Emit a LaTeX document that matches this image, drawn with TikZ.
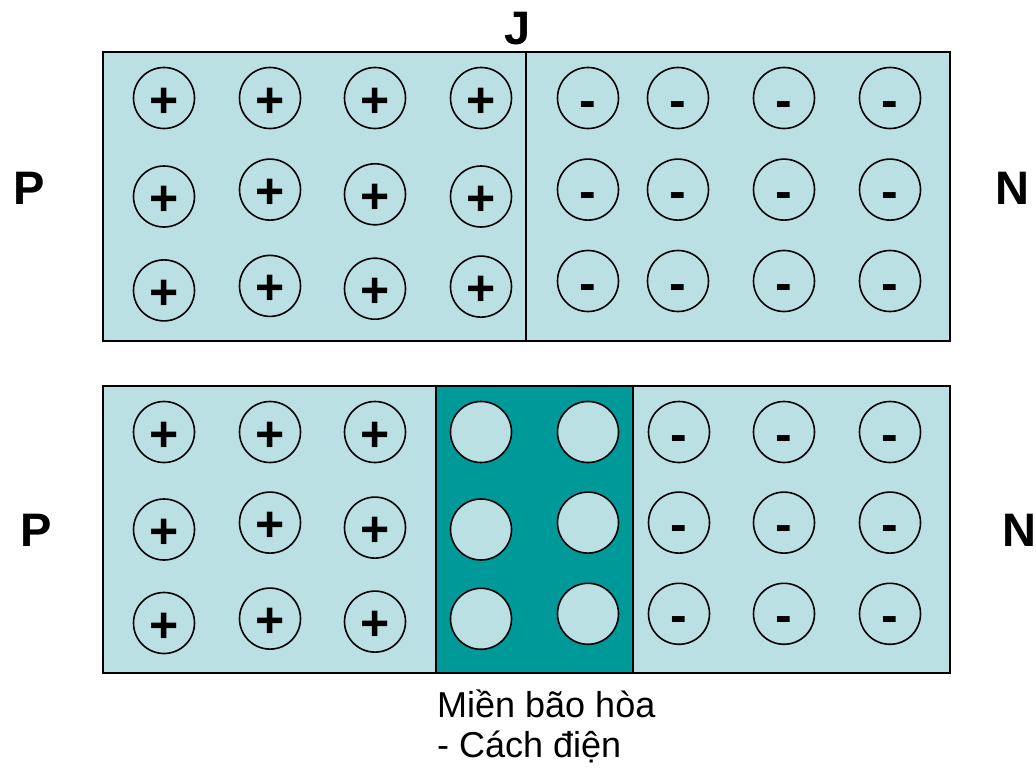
\documentclass[tikz,border=0pt]{standalone}
\usepackage{fontspec}
\setmainfont{Liberation Sans}
\definecolor{lightfill}{HTML}{BBE0E3}
\definecolor{darkfill}{HTML}{009999}
\begin{document}
\begin{tikzpicture}[x=1pt,y=-1pt,
  region/.style={draw=black,line width=1.8pt,fill=lightfill},
  ion/.style={circle,draw=black,line width=1.6pt,fill=lightfill,minimum size=61pt,inner sep=0pt,
    font=\fontsize{50}{50}\selectfont\bfseries,text height=38pt,text depth=0pt},
  big/.style={font=\fontsize{47}{47}\selectfont\bfseries},
  caption/.style={font=\fontsize{36}{40}\selectfont,align=left,anchor=north west,inner sep=0pt}]
\useasboundingbox (0,0) rectangle (1036,768);
% top block
\draw[region] (103,52) rectangle (950,341);
\draw[line width=1.8pt] (526,52) -- (526,341);
% bottom block
\draw[region] (103,386) rectangle (950,673);
\draw[line width=1.8pt,fill=darkfill] (436,386) rectangle (633,673);
% top ions, P side
\foreach \x/\n/\ya/\yb in {164/1/196.5/290.4, 270/2/189.6/285.9, 375/3/194.3/288.7, 481/4/196.5/286.6}{
  \node[ion] (tp1\n) at (\x,98) {+};
  \node[ion] (tp2\n) at (\x,\ya) {+};
  \node[ion] (tp3\n) at (\x,\yb) {+};
}
% top ions, N side
\foreach \x/\n in {588/1,678/2,784/3,890/4}{
  \node[ion] (tn1\n) at (\x,98) {-};
  \node[ion] (tn2\n) at (\x,189.6) {-};
  \node[ion] (tn3\n) at (\x,281) {-};
}
% bottom ions, P side
\foreach \x/\n/\ya/\yb in {164/1/529.5/623, 270/2/522.6/618.6, 375/3/527.6/621.6}{
  \node[ion] (bp1\n) at (\x,432) {+};
  \node[ion] (bp2\n) at (\x,\ya) {+};
  \node[ion] (bp3\n) at (\x,\yb) {+};
}
% depletion region
\node[ion] (bd11) at (481,432) {};
\node[ion] (bd21) at (481,529.5) {};
\node[ion] (bd31) at (481,618.8) {};
\node[ion] (bd12) at (588,432) {};
\node[ion] (bd22) at (588,522.6) {};
\node[ion] (bd32) at (588,613.8) {};
% bottom ions, N side
\foreach \x/\n in {679/1,784/2,890/3}{
  \node[ion] (bn1\n) at (\x,432) {-};
  \node[ion] (bn2\n) at (\x,522.6) {-};
  \node[ion] (bn3\n) at (\x,613.8) {-};
}
% labels
\node[big] (J) at (518,29) {J};
\node[big] (P1) at (29,188) {P};
\node[big] (N1) at (1012.5,188) {N};
\node[big] (P2) at (36,530) {P};
\node[big] (N2) at (1019,530) {N};
\node[caption] (cap) at (437,690) {Miền bão hòa\\- Cách điện};
\end{tikzpicture}
\end{document}
